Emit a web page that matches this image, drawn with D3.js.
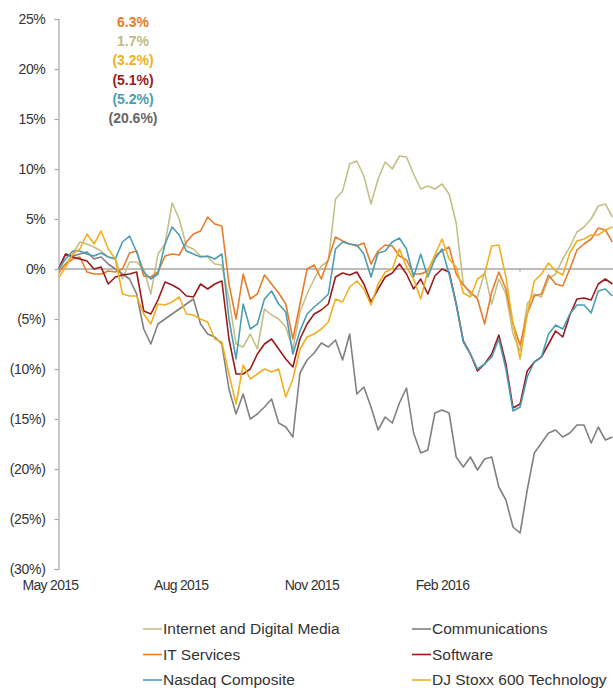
<!DOCTYPE html>
<html>
<head>
<meta charset="utf-8">
<script src="https://cdn.jsdelivr.net/npm/d3@7"></script>
<style>
  body { margin: 0; background: #fff; }
  svg { display: block; font-family: "Century Gothic", "Liberation Sans", Arial, sans-serif; }
</style>
</head>
<body>
<div id="chart"></div>
<script>
// chart size
var width = 613;
var height = 688;

// x categories: one point every 5 days from 7 May 2015
var startDate = new Date(2015, 4, 7);
var stepDays = 5;

// series values in % (79 points each)
var internet = [0, 0.5, 1.5, 2.7, 2.5, 2.2, 1.8, 1.2, 1.0, -1.0, 0.7, 0.7, 0, -2.5, 1.5, 2.5, 6.6, 5.0, 2.3, 2.0,
  1.3, 1.2, 0.5, 0.4, -3.0, -7.5, -7.8, -6.5, -8.0, -4.0, -4.6, -5.0, -5.8, -8.0, -4.3, -2.5, -1.0, 0.3, 0.8, 7.0,
  7.8, 10.5, 10.8, 9.3, 6.5, 9.0, 10.7, 10.0, 11.3, 11.2, 9.5, 8.0, 8.3, 8.0, 8.5, 7.5, 4.6, -1.5, -2.5, -2.8,
  -0.3, -3.5, -1.0, -2.5, -6.5, -8.2, -3.5, -2.5, -2.8, -1.0, -0.5, 1.0, 2.2, 3.7, 4.2, 5.0, 6.3, 6.5, 5.2];
var communications = [0, 1.5, 1.3, 1.5, 1.7, 1.0, 1.2, 0.5, 0, -0.5, -1.0, -2.5, -6.0, -7.5, -5.5, -5.0, -4.5, -4.0, -3.5, -3.0,
  -5.5, -6.5, -6.8, -7.5, -12.0, -14.5, -12.5, -15.0, -14.5, -13.8, -13.0, -15.4, -15.8, -16.8, -10.4, -9.1, -8.4, -7.4, -7.8, -7.1,
  -9.1, -6.5, -12.5, -11.8, -13.8, -16.1, -14.8, -15.4, -13.4, -11.9, -16.4, -18.4, -18.1, -14.4, -14.1, -14.4, -18.8, -19.8, -18.8, -20.1,
  -19.0, -18.8, -21.8, -23.1, -25.8, -26.4, -22.1, -18.4, -17.4, -16.4, -16.1, -16.8, -16.4, -15.6, -15.6, -17.4, -15.8, -17.1, -16.8];
var itServices = [-0.4, 0.5, 1.0, 1.2, -0.3, -0.5, -0.5, -0.2, -0.3, 0, 1.6, 1.8, -0.7, -0.8, -0.3, 1.3, 1.5, 1.4, 2.7, 3.5,
  3.8, 5.2, 4.5, 4.3, -1.5, -5.0, -0.5, -3.0, -2.5, -0.6, -1.5, -2.4, -3.5, -7.0, -3.5, 0, 0.4, -1.0, 1.0, 3.2,
  2.8, 2.5, 2.3, 2.6, 0.5, 1.8, 2.4, 2.3, 1.3, 0.9, -0.5, -0.5, -0.2, 1.3, 1.8, 2.2, -0.5, -1.6, -2.3, -3.0,
  -5.5, -2.3, -0.3, -2.0, -5.5, -7.6, -4.5, -2.7, -2.5, -0.6, -1.5, -1.7, 0, 1.9, 2.5, 3.0, 4.1, 3.9, 2.7];
var software = [0, 1.5, 1.2, 1.0, 0.8, 0, 0.2, -1.5, -0.8, -0.6, -0.5, -0.3, -4.2, -4.5, -3.1, -1.3, -1.6, -2.0, -2.7, -2.8,
  -1.5, -2.0, -1.5, -1.2, -7.0, -10.5, -10.5, -10.0, -8.5, -7.5, -7.0, -8.0, -9.0, -9.8, -7.0, -5.5, -4.5, -4.1, -3.5, -0.8,
  -0.4, -0.6, -0.3, -1.5, -3.3, -2.0, -0.8, -0.4, 0.5, -0.5, -2.0, -1.0, -2.5, -0.7, 0, -0.3, -3.5, -7.2, -8.5, -10.2,
  -9.5, -8.5, -6.6, -9.5, -13.9, -13.5, -10.2, -9.3, -8.8, -7.5, -6.2, -6.8, -4.6, -3.0, -2.9, -3.1, -1.5, -1.0, -1.5];
var nasdaq = [0, 1.0, 1.8, 1.8, 1.5, 1.3, 1.6, 1.2, 1.0, 2.7, 3.3, 1.7, -0.3, -1.0, -0.5, 2.5, 4.2, 3.4, 1.8, 1.5,
  1.2, 1.3, 1.0, 1.5, -5.0, -9.0, -3.5, -6.0, -5.5, -3.0, -2.2, -3.5, -4.3, -8.5, -6.2, -4.5, -3.8, -3.2, -2.5, 2.0,
  2.7, 2.5, 2.4, 1.5, -0.8, 1.6, 1.8, 2.7, 3.1, 2.0, -0.8, 1.5, -0.8, 1.0, 2.0, -0.5, -3.5, -7.3, -8.5, -10.0,
  -9.5, -8.8, -7.0, -10.0, -14.2, -13.8, -10.8, -9.3, -8.8, -6.5, -5.6, -6.0, -4.5, -3.6, -3.6, -4.4, -2.2, -2.0, -2.7];
var djStoxx = [-0.9, 0.2, 1.5, 2.0, 3.5, 2.5, 3.8, 2.0, 1.0, -2.5, -2.7, -2.7, -4.5, -5.5, -3.5, -3.6, -3.3, -2.8, -4.5, -4.6,
  -5.0, -5.3, -7.0, -7.3, -10.5, -13.5, -9.6, -11.0, -10.5, -10.0, -10.3, -10.0, -12.8, -11.0, -8.0, -6.8, -6.5, -6.0, -5.3, -3.0,
  -3.3, -1.8, -1.2, -2.0, -3.6, -1.5, -0.3, 0, 2.0, 0.2, -1.0, -3.0, -0.2, 1.4, 3.0, 1.0, 0.2, -2.4, -2.8, -1.0,
  -0.5, 2.3, 2.4, -0.8, -5.5, -9.0, -4.5, -1.2, -0.5, 0.6, -0.2, -0.6, 1.6, 2.8, 3.0, 3.4, 3.4, 3.9, 4.2];

var seriesNames = ["Internet and Digital Media", "Communications", "IT Services", "Software", "Nasdaq Composite", "DJ Stoxx 600 Technology"];
var seriesColors = ["#c4c087", "#808080", "#e67c2c", "#9b1b1b", "#4b9db3", "#efb022"];
var seriesValues = [internet, communications, itServices, software, nasdaq, djStoxx];

// y ticks and x labels
var yTicks = [25, 20, 15, 10, 5, 0, -5, -10, -15, -20, -25, -30];
var xLabelDates = [new Date(2015, 4, 1), new Date(2015, 7, 1), new Date(2015, 10, 1), new Date(2016, 1, 1)];

// one year return labels at the top
var returnLabels = ["6.3%", "1.7%", "(3.2%)", "(5.1%)", "(5.2%)", "(20.6%)"];
var returnColors = ["#e67c2c", "#bdbb87", "#efb022", "#9b1b1b", "#4b9db3", "#666666"];

var dates = internet.map(function(d, i) { return d3.timeDay.offset(startDate, i * stepDays); });

var svg = d3.select("#chart").append("svg")
  .attr("width", width)
  .attr("height", height);

var x = d3.scaleTime()
  .domain([new Date(2015, 4, 1), new Date(2016, 1, 1)])
  .range([50, 442]);

var y = d3.scaleLinear()
  .domain([-30, 25])
  .range([569, 19]);

var axisX0 = x(startDate);

// clip the lines at the right edge
svg.append("clipPath").attr("id", "plotclip")
  .append("rect").attr("x", axisX0).attr("y", 0).attr("width", width - axisX0).attr("height", 600);

//y axis
var yAxis = svg.append("g")
  .attr("transform", "translate(" + axisX0 + ",0)")
  .call(d3.axisLeft(y).tickValues(yTicks).tickSize(4).tickPadding(9)
    .tickFormat(function(d) { return d < 0 ? "(" + Math.abs(d) + "%)" : d + "%"; }));
yAxis.selectAll("path, line").attr("stroke", "#a6a6a6").attr("stroke-width", 1.2);
yAxis.selectAll("text").attr("fill", "#333").style("font-size", "14px").style("letter-spacing", "-0.3px");

// zero line
svg.append("line")
  .attr("x1", axisX0).attr("x2", width)
  .attr("y1", y(0)).attr("y2", y(0))
  .attr("stroke", "#a6a6a6").attr("stroke-width", 1.5);
svg.append("line")
  .attr("x1", 520).attr("x2", 520)
  .attr("y1", y(0)).attr("y2", y(0) + 3)
  .attr("stroke", "#a6a6a6").attr("stroke-width", 1);

//x axis labels only
var xAxis = svg.append("g")
  .attr("transform", "translate(0," + 580 + ")")
  .call(d3.axisBottom(x).tickValues(xLabelDates).tickSize(0).tickPadding(0)
    .tickFormat(d3.timeFormat("%b %Y")));
xAxis.select(".domain").remove();
xAxis.selectAll("text").attr("fill", "#333").style("font-size", "14px").style("letter-spacing", "-0.7px");

// the lines
var line = d3.line()
  .x(function(d, i) { return x(dates[i]); })
  .y(function(d) { return y(d); });

var plot = svg.append("g").attr("clip-path", "url(#plotclip)");
plot.selectAll(".series")
  .data(seriesValues)
  .enter().append("path")
  .attr("class", "series")
  .attr("fill", "none")
  .attr("stroke", function(d, i) { return seriesColors[i]; })
  .attr("stroke-width", 1.6)
  .attr("stroke-linejoin", "round")
  .attr("d", line);

// return labels
svg.selectAll(".ret")
  .data(returnLabels)
  .enter().append("text")
  .attr("class", "ret")
  .attr("x", 133)
  .attr("y", function(d, i) { return 22 + i * 19.2; })
  .attr("dy", "0.35em")
  .attr("text-anchor", "middle")
  .attr("fill", function(d, i) { return returnColors[i]; })
  .style("font-size", "14px")
  .style("font-weight", "bold")
  .text(function(d) { return d; });

// legend, two columns
var legend = svg.selectAll(".legend")
  .data(seriesNames)
  .enter().append("g")
  .attr("class", "legend")
  .attr("transform", function(d, i) {
    return "translate(" + (i % 2 == 0 ? 143 : 412) + "," + (629 + Math.floor(i / 2) * 25.5) + ")";
  });
legend.append("line")
  .attr("x1", 0).attr("x2", 19)
  .attr("stroke", function(d, i) { return seriesColors[i]; })
  .attr("stroke-width", 1.6);
legend.append("text")
  .attr("x", 20)
  .attr("dy", "0.35em")
  .attr("fill", "#333")
  .style("font-size", "15.5px")
  .text(function(d) { return d; });
</script>
</body>
</html>
